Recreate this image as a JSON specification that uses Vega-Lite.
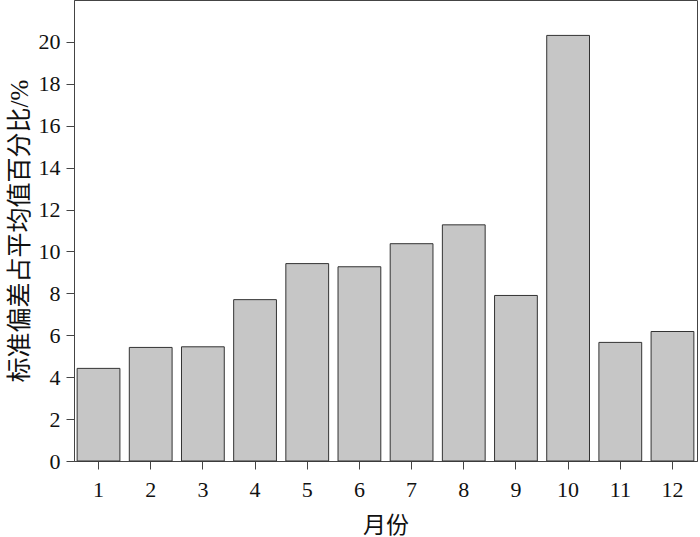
{
  "$schema": "https://vega.github.io/schema/vega-lite/v6.json",
  "width": 623,
  "height": 461,
  "padding": {"left": 74, "top": 0, "right": 3, "bottom": 76},
  "autosize": {"type": "none"},
  "background": "white",
  "config": {
    "view": {"stroke": "#444", "strokeWidth": 1},
    "font": "Liberation Serif"
  },
  "data": {
    "values": [
      {"month": "1", "value": 4.42},
      {"month": "2", "value": 5.42},
      {"month": "3", "value": 5.45},
      {"month": "4", "value": 7.7},
      {"month": "5", "value": 9.42},
      {"month": "6", "value": 9.27},
      {"month": "7", "value": 10.37},
      {"month": "8", "value": 11.27},
      {"month": "9", "value": 7.9},
      {"month": "10", "value": 20.31},
      {"month": "11", "value": 5.66},
      {"month": "12", "value": 6.18}
    ]
  },
  "mark": {"type": "bar", "fill": "#c6c6c6", "stroke": "#333", "strokeWidth": 1},
  "encoding": {
    "x": {
      "field": "month",
      "type": "ordinal",
      "sort": null,
      "scale": {"paddingInner": 0.18, "paddingOuter": 0.06},
      "axis": {
        "title": "月份",
        "titleFont": "Liberation Serif, Noto Sans CJK SC",
        "titleFontSize": 23,
        "titleFontWeight": "normal",
        "titleColor": "#111",
        "titlePadding": 14,
        "labelFont": "Liberation Serif",
        "labelFontSize": 22,
        "labelColor": "#111",
        "labelAngle": 0,
        "labelPadding": 10,
        "tickSize": 8,
        "tickColor": "#444",
        "domainColor": "#444",
        "grid": false
      }
    },
    "y": {
      "field": "value",
      "type": "quantitative",
      "scale": {"domain": [0, 22], "nice": false},
      "axis": {
        "title": "标准偏差占平均值百分比/%",
        "titleFont": "Liberation Serif, Noto Sans CJK SC",
        "titleFontSize": 25,
        "titleFontWeight": "normal",
        "titleColor": "#111",
        "titlePadding": 6,
        "values": [0, 2, 4, 6, 8, 10, 12, 14, 16, 18, 20],
        "labelFont": "Liberation Serif",
        "labelFontSize": 22,
        "labelColor": "#111",
        "labelPadding": 6,
        "tickSize": 8,
        "tickColor": "#444",
        "domainColor": "#444",
        "grid": false
      }
    }
  }
}
